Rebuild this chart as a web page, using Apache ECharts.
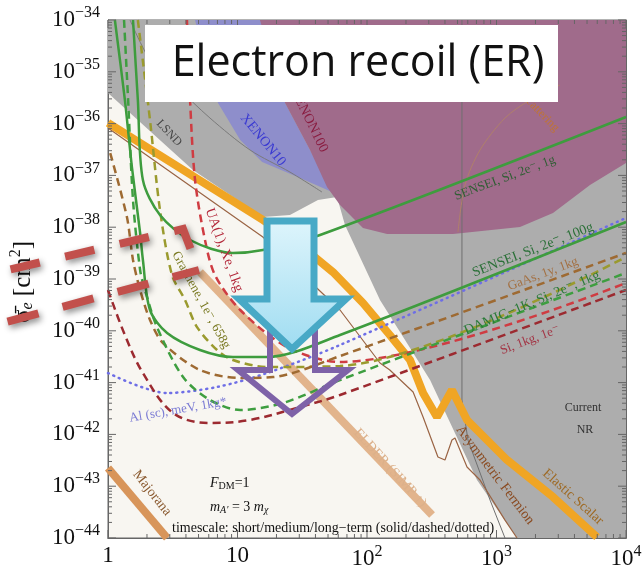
<!DOCTYPE html>
<html><head><meta charset="utf-8">
<script src="https://cdn.jsdelivr.net/npm/echarts@6/dist/echarts.min.js"></script>
<style>html,body{margin:0;padding:0;background:#fff}#c{width:644px;height:569px}</style>
</head><body><div id="c"></div>
<script>
// ---- tick labels (exponents of 10) ----
const xTickExp = [0, 1, 2, 3, 4];
const yTickExp = [-44, -43, -42, -41, -40, -39, -38, -37, -36, -35, -34];

// ---- shaded regions [m_chi (MeV), sigma_e (cm^2)] ----
const grayRegion = [[1,1e-34],[1,3.9e-36],[4.53,1.27e-37],[15.7,1.57e-38],[25.4,1.72e-38],[41.8,3.35e-38],[58.7,3.83e-38],[67.6,1.10e-38],[126,3.94e-40],[307,1.12e-41],[707,1.32e-43],[1440,1e-44],[10000,1e-44],[10000,1e-34]];
const xenon10Region = [[4.70,1e-34],[15.5,1e-34],[23.3,2.50e-36],[36.3,3.09e-37],[53.7,4.78e-38],[30.4,8.91e-38],[15.5,1.81e-37],[10.5,4.82e-37],[7.07,2.50e-36],[5.61,1.69e-35]];
const xenon100Region = [[14.9,1e-34],[10000,1e-34],[10000,1.73e-37],[5272,6.53e-38],[2731,1.88e-38],[1519,1.01e-38],[461,7.39e-39],[143,7.39e-39],[93.1,9.65e-39],[61.9,2.68e-38],[49.1,5.97e-38],[36.3,3.09e-37],[23.3,2.50e-36]];

// ---- thin boundary lines ----
const nrBoundary = [[541,1e-34],[541,4.61e-42],[602,7.79e-43],[891,5.42e-44],[1163,1e-44]];
const lsndLine = [[1.48,1e-34],[2.11,1.69e-35],[3.29,5.56e-36],[6.13,1.28e-36],[12.5,3.09e-37],[25.4,1.16e-37],[44.9,4.78e-38]];
const scatteringLine = [[504,8.07e-39],[571,6.53e-38],[746,3.09e-37],[1163,1.28e-36],[1814,2.86e-36],[3093,5.56e-36]];

// ---- targets ----
const elasticScalar = [[1,1.03e-36],[15.7,1.38e-38],[30.4,4.53e-39],[54.6,1.36e-39],[93.1,3.44e-40],[150,8.30e-41],[215,2.73e-41],[271,6.30e-42],[347,2.17e-42],[453,7.19e-42],[592,1.90e-42],[1205,3.21e-43],[2731,6.19e-44],[5971,1.04e-44]];
const asymFermion = [[1,8.22e-37],[15.7,6.47e-39],[61.9,2.52e-40],[126,2.39e-41],[150,1.75e-41],[227,6.59e-42],[271,2.17e-42],[353,3.67e-43],[400,3.21e-43],[453,7.79e-43],[478,8.53e-43],[592,2.35e-43],[746,1.32e-43],[1163,2.22e-44],[1440,1e-44]];
const elder = [[5.13,1.36e-39],[318,2.78e-44]];
const majorana = [[1,2.25e-43],[2.86,1e-44]];

// ---- projections ----
const sensei1g = [[1.56,1e-34],[1.70,2.86e-36],[1.86,8.15e-38],[2.52,1.72e-38],[4.30,5.66e-39],[9.23,3.18e-39],[15.7,3.63e-39],[43.4,7.06e-39],[10000,1.34e-36]];
const sensei100g = [[1.13,1e-34],[1.35,2.86e-36],[1.53,1.45e-37],[1.77,7.73e-39],[1.86,2.33e-39],[2.11,2.52e-40],[2.86,9.07e-41],[5.13,4.26e-41],[9.23,3.12e-41],[16.9,3.12e-41],[61.9,8.30e-41],[10000,1.26e-38]];
const damic = [[1.33,1e-34],[1.43,2.86e-36],[1.56,3.35e-38],[1.77,1.49e-39],[1.93,6.14e-40],[2.39,1.18e-40],[3.80,1.28e-41],[6.13,4.61e-42],[10.5,2.96e-42],[22.5,4.04e-42],[61.9,1.12e-41],[10000,1.31e-39]];
const gaas = [[1.04,2.70e-37],[1.40,1.57e-38],[1.56,2.33e-39],[1.77,6.14e-40],[2.11,1.62e-40],[2.66,5.81e-41],[5.13,1.75e-41],[10.5,1.23e-41],[18.8,1.28e-41],[61.9,3.26e-41],[10000,3.18e-39]];
const graphene = [[1.70,1e-34],[2.11,1.17e-36],[2.52,2.15e-38],[3.12,1.19e-39],[3.93,3.94e-40],[4.87,1.18e-40],[6.95,4.26e-41],[9.23,2.73e-41],[16.9,2.00e-41],[61.9,2.09e-41],[10000,2.66e-39]];
const ua1Xe = [[4.07,1e-34],[4.30,2.86e-36],[4.70,8.15e-38],[5.61,5.66e-39],[6.70,1.19e-39],[10.5,2.52e-40],[24.1,4.86e-41],[61.9,2.50e-41],[10000,8.37e-40]];
const si1kg = [[1,6.14e-40],[1.35,8.30e-41],[1.86,1.53e-41],[3.18,2.59e-42],[6.13,1.66e-42],[12.5,1.90e-42],[30.4,3.38e-42],[61.9,5.77e-42],[10000,6.14e-40]];
const alSc = [[1,1.53e-41],[2.86,6.30e-42],[6.95,8.22e-42],[16.9,1.53e-41],[61.9,5.32e-41],[10000,1.51e-38]];

// ---- tick positions (axis decoration) ----
const tickData = [];
xTickExp.forEach(e => { const v = Number('1e' + e); tickData.push([v, 1e-44, 0, 8]); tickData.push([v, 1e-34, 1, 8]); });
yTickExp.forEach(e => { const v = Number('1e' + e); tickData.push([1, v, 2, 8]); tickData.push([10000, v, 3, 8]); });
for (let e = 0; e < 4; e++) for (let k = 2; k <= 9; k++) { const v = Number(k + 'e' + e); tickData.push([v, 1e-44, 0, 4]); tickData.push([v, 1e-34, 1, 4]); }
for (let e = -44; e < -34; e++) for (let k = 2; k <= 9; k++) { const v = Number(k + 'e' + e); tickData.push([1, v, 2, 4]); tickData.push([10000, v, 3, 4]); }
// end labels of the y axis (the axis drops labels at the exact extremes)
const yEdgeExp = [-44, -34];

const SERIF = '"Liberation Serif", "DejaVu Serif", serif';

function region(pts, color, z) {
  return {type:'custom', coordinateSystem:'cartesian2d', data: pts, z, silent:true,
    renderItem: (p, api) => p.dataIndex === 0 ? {type:'polygon', shape:{points: pts.map(q => api.coord(q))}, style:{fill:color}} : null};
}
function line(data, color, width, type, smooth, z) {
  return {type:'line', data, symbol:'none', smooth: smooth, silent:true, z: z || 3,
    lineStyle:{color, width, type, cap: (Array.isArray(type) && type[0] <= 2) ? 'round' : 'butt'}};
}
function supFmt(exp) {
  if (exp === 0) return '{b|1}';
  if (exp === 1) return '{b|10}';
  return '{b|10}{s|' + (exp < 0 ? '\u2212' + (-exp) : exp) + '}';
}
const labelRich = {
  b:{fontSize:23, fontFamily:SERIF, color:'#111'},
  s:{fontSize:16, fontFamily:SERIF, color:'#111', padding:[0,0,14,0]}
};
const labelRichZr = {
  b:{fontSize:23, fontFamily:SERIF, fill:'#111'},
  s:{fontSize:16, fontFamily:SERIF, fill:'#111', padding:[0,0,14,0]}
};

function t(text, x, y, rot, color, size) {
  return {type:'text', x, y, rotation: rot || 0, z: 50,
    style:{text, fill: color, font: (size||13) + 'px ' + SERIF, align:'center', verticalAlign:'middle', textAlign:'center', textVerticalAlign:'middle'}};
}

const chart = echarts.init(document.getElementById('c'), null, {renderer:'canvas'});
function axisCommon() {
  return {
    type:'log', logBase:10, splitLine:{show:false},
    axisLine:{show:true, lineStyle:{color:'#666', width:1}},
    axisTick:{show:false},
    minorTick:{show:false}
  };
}
const dashShadow = {shadowBlur:6, shadowColor:'rgba(0,0,0,0.45)', shadowOffsetX:2, shadowOffsetY:3};
chart.setOption({
  animation:false,
  backgroundColor:'#ffffff',
  grid:{left:108, top:20, right:18, bottom:31, containLabel:false, outerBoundsMode:'none', show:true, backgroundColor:'#f8f6f1', borderColor:'#666', borderWidth:1},
  xAxis:[
    Object.assign(axisCommon(), {position:'bottom', min:1, max:10000, interval:1, splitNumber:4,
      axisLabel:{margin:6, interval:0, showMinLabel:true, showMaxLabel:true, hideOverlap:false,
        formatter: v => { const e = Math.round(Math.log10(v)); return xTickExp.indexOf(e) >= 0 ? supFmt(e) : ''; }, rich: labelRich}}),
    Object.assign(axisCommon(), {position:'top', min:1, max:10000, interval:1, axisLabel:{show:false}})
  ],
  yAxis:[
    Object.assign(axisCommon(), {position:'left', min:1e-44, max:1e-34, interval:1, splitNumber:10,
      axisLabel:{margin:8, interval:0, showMinLabel:true, showMaxLabel:true, hideOverlap:false,
        formatter: v => { const e = Math.round(Math.log10(v)); return (yTickExp.indexOf(e) >= 0 && yEdgeExp.indexOf(e) < 0) ? supFmt(e) : ''; }, rich: labelRich}}),
    Object.assign(axisCommon(), {position:'right', min:1e-44, max:1e-34, interval:1, axisLabel:{show:false}})
  ],
  series:[
    region(grayRegion, '#adadad', 1),
    region(xenon10Region, '#8e8ecb', 1),
    region(xenon100Region, '#a06b8b', 1),
    line(nrBoundary, '#6f6f6f', 1, 'solid', false, 2),
    line(lsndLine, '#7a7a7a', 1, 'solid', 0.3, 2),
    line(scatteringLine, '#b0806a', 1, 'solid', 0.3, 2),
    line(majorana, '#d8955a', 8, 'solid', false, 3),
    line(elder, '#e2b48c', 8, 'solid', false, 3),
    line(asymFermion, '#9a6444', 1.2, 'solid', false, 3),
    line(elasticScalar, '#f0a524', 8, 'solid', false, 4),
    line(alSc, '#6e6ee6', 2.5, [1,5], 0.3, 5),
    line(si1kg, '#9c2a30', 2.5, [8,5], 0.35, 5),
    line(ua1Xe, '#cf3c42', 2.5, [8,5], 0.3, 5),
    line(graphene, '#9a9a2e', 2.5, [8,5], 0.3, 5),
    line(gaas, '#9e6a32', 2.5, [8,5], 0.3, 5),
    line(damic, '#3e9e40', 2.5, [8,5], 0.3, 5),
    line(sensei100g, '#3e9c3e', 2.5, 'solid', 0.3, 6),
    line(sensei1g, '#3e9c3e', 2.5, 'solid', 0.3, 6),
    {type:'custom', coordinateSystem:'cartesian2d', data: tickData, z: 7, silent:true,
      renderItem: (p, api) => {
        const pt = api.coord([api.value(0), api.value(1)]); const d = api.value(2); const L = api.value(3);
        let x2 = pt[0], y2 = pt[1];
        if (d === 0) y2 -= L; else if (d === 1) y2 += L; else if (d === 2) x2 += L; else x2 -= L;
        return {type:'line', shape:{x1:pt[0], y1:pt[1], x2, y2}, style:{stroke:'#666', lineWidth:1}};
      }},
    {type:'custom', coordinateSystem:'cartesian2d', data: yEdgeExp.map(e => [1, Number('1e' + e), e]), z: 7, silent:true, clip:false,
      renderItem: (p, api) => {
        const pt = api.coord([api.value(0), api.value(1)]);
        return {type:'text', x: pt[0] - 8, y: pt[1], style:{text: supFmt(api.value(2)), rich: labelRichZr, align:'right', textAlign:'right', verticalAlign:'middle', textVerticalAlign:'middle'}};
      }}
  ],
  graphic:[
    t('LSND', 169, 133, -0.82, '#444', 12),
    t('XENON10', 263, 140, -0.88, '#3a3ad2', 14),
    t('XENON100', 309, 120, -1.12, '#8a1c40', 14),
    t('scattering', 541, 113, -0.8, '#c07434', 12),
    t('UA(1), Xe, 1kg', 224, 250, -1.22, '#b3283a', 14),
    t('Graphene, 1e\u207B, 658g', 201, 300, -1.07, '#77771e', 13),
    t('SENSEI, Si, 2e\u207B, 1g', 505, 178, 0.36, '#2f5e34', 13),
    t('SENSEI, Si, 2e\u207B, 100g', 533, 250, 0.37, '#2b7038', 14),
    t('GaAs, 1y, 1kg', 543, 274, 0.36, '#a37042', 13),
    t('DAMIC\u22121K, Si, 2e\u207B, 1kg', 532, 303, 0.40, '#2a7a38', 14),
    t('Si, 1kg, 1e\u207B', 530, 340, 0.36, '#a33444', 13),
    t('Al (sc), meV, 1kg*', 178, 410, 0.17, '#7b7bd4', 13),
    t('ELDER (SIMP \u2191)', 390, 468, -0.83, '#dcb08a', 14),
    t('Asymmetric Fermion', 495, 475, -0.92, '#8a4a20', 14),
    t('Elastic Scalar', 573, 497, -0.73, '#9e6a24', 14),
    t('Majorana', 152, 493, -0.9, '#8a5a30', 14),
    t('Current', 583, 408, 0, '#333', 12),
    t('NR', 585, 430, 0, '#333', 12),
    {type:'text', x:210, y:483, z:50, style:{text:'{i|F}{u|DM}{n|=1}', fill:'#111', align:'left', textAlign:'left', verticalAlign:'middle', textVerticalAlign:'middle',
      rich:{i:{fontSize:14, fontFamily:SERIF, fontStyle:'italic', fill:'#111'}, u:{fontSize:10, fontFamily:SERIF, fill:'#111', padding:[6,0,0,0]}, n:{fontSize:14, fontFamily:SERIF, fill:'#111'}}}},
    {type:'text', x:210, y:507, z:50, style:{text:'{i|m}{u|A\u2032}{n| = 3 }{i|m}{u|\u03C7}', fill:'#111', align:'left', textAlign:'left', verticalAlign:'middle', textVerticalAlign:'middle',
      rich:{i:{fontSize:14, fontFamily:SERIF, fontStyle:'italic', fill:'#111'}, u:{fontSize:10, fontFamily:SERIF, fontStyle:'italic', fill:'#111', padding:[6,0,0,0]}, n:{fontSize:14, fontFamily:SERIF, fill:'#111'}}}},
    {type:'text', x:172, y:528, z:50, style:{text:'timescale: short/medium/long\u2212term (solid/dashed/dotted)', fill:'#111', font:'14px ' + SERIF, align:'left', textAlign:'left', verticalAlign:'middle', textVerticalAlign:'middle'}},
    {type:'text', x:23, y:282, rotation:Math.PI/2, z:50, style:{text:'{a|\u03C3\u0304}{e|e}{a| [cm}{p|2}{a|]}', fill:'#111', align:'center', textAlign:'center', verticalAlign:'middle', textVerticalAlign:'middle',
      rich:{a:{fontSize:25, fontFamily:SERIF, fill:'#111'}, e:{fontSize:16, fontFamily:SERIF, fontStyle:'italic', fill:'#111', padding:[10,0,0,0]}, p:{fontSize:16, fontFamily:SERIF, fill:'#111', padding:[0,0,14,0]}}}},
    {type:'rect', z:60, shape:{x:145, y:25, width:413, height:77}, style:{fill:'#ffffff'}},
    {type:'text', x:358, y:64, z:61, style:{text:'Electron recoil (ER)', fill:'#111', font:'43px "Open Sans", Lato, sans-serif', align:'center', textAlign:'center', verticalAlign:'middle', textVerticalAlign:'middle'}},
    {type:'polygon', z:62, shape:{points:[[270,300],[315,300],[315,370],[348,370],[292,414],[238,370],[270,370]]}, style:{fill:'none', stroke:'#7e62a8', lineWidth:6, lineJoin:'miter'}},
    {type:'polygon', z:63, shape:{points:[[267,221],[314,221],[314,299],[346,299],[292,349],[239,299],[267,299]]},
      style:{fill:new echarts.graphic.LinearGradient(0,0,0,1,[{offset:0,color:'#dff5fc'},{offset:1,color:'#9edcf1'}]), stroke:'#48a9c6', lineWidth:7, lineJoin:'miter'}},
    {type:'polyline', z:64, shape:{points:[[-5,273],[183,229],[199,271]]},
      style:Object.assign({fill:null, stroke:'#c2504c', lineWidth:8, lineDash:[30,26], lineDashOffset:40}, dashShadow)},
    {type:'polyline', z:64, shape:{points:[[-5,325],[199,270]]},
      style:Object.assign({fill:null, stroke:'#c2504c', lineWidth:8, lineDash:[32,25], lineDashOffset:44}, dashShadow)}
  ]
});
</script>
</body></html>
